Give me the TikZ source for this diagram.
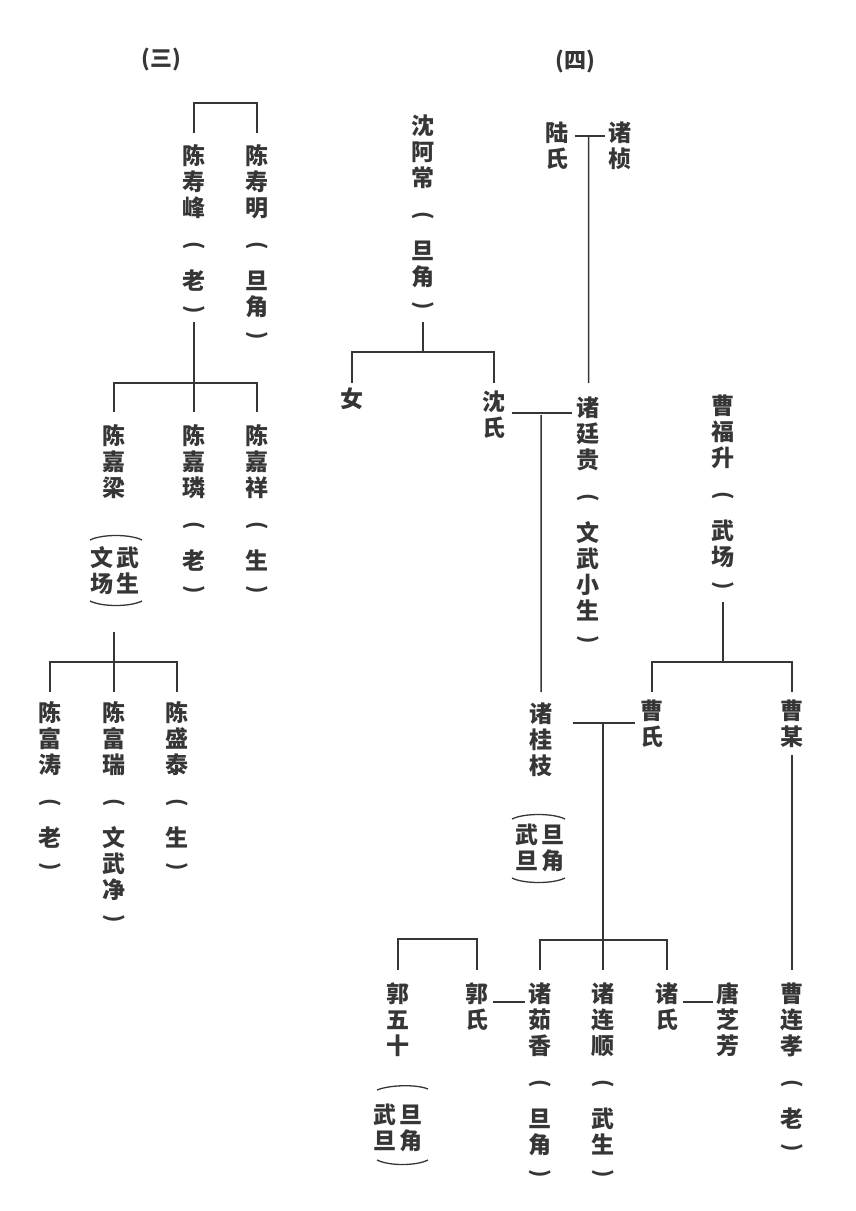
\documentclass[tikz,border=0pt]{standalone}
\usepackage{fontspec}
\usepackage{graphicx}
\usetikzlibrary{calc}
\newfontfamily\cjk{Noto Sans CJK SC}
\definecolor{ink}{HTML}{363636}
\newlength\gapO \setlength\gapO{22pt}
\newlength\gapP \setlength\gapP{28pt}
\newlength\gapQ \setlength\gapQ{13pt}
\newlength\pitchgap \setlength\pitchgap{3pt}
\newcommand\prn[1]{\hbox to 1em{\hss\smash{\fontsize{21}{21}\selectfont\rotatebox{-90}{#1}}\hss}}
\ExplSyntaxOn
\NewDocumentCommand\V{m}{
  \vbox{\offinterlineskip
    \bool_set_true:N \l_tmpa_bool
    \tl_map_inline:nn {#1}{
      \str_case:nnF {##1}{
        {<}{\kern\gapO \prn{(} \kern\gapP \bool_set_true:N \l_tmpa_bool}
        {>}{\kern\gapQ \prn{)}}
      }{
        \bool_if:NF \l_tmpa_bool {\kern\pitchgap}
        \bool_set_false:N \l_tmpa_bool
        \hbox to 1em{\hss\vrule width 0pt height .88em depth .12em\relax ##1\hss}
      }
    }
  }
}
\ExplSyntaxOff
\newcommand\VV[2]{\hbox{\V{#1}\kern3pt\V{#2}}}
\tikzset{
  vt/.style={font=\cjk\bfseries\fontsize{23}{26}\selectfont, text=ink, inner sep=0pt, anchor=north},
  ttl/.style={font=\cjk\bfseries\fontsize{22}{22}\selectfont, text=ink, inner sep=0pt, anchor=center},
  ln/.style={draw=ink, line width=1.5pt},
  arcst/.style={draw=ink, line width=1.3pt},
}
\begin{document}
\begin{tikzpicture}[x=1pt,y=-1pt]
\useasboundingbox (0,0) rectangle (856,1211);
% ---------------- (三) ----------------
\node[ttl] (t3) at (161,59) {(三)};
\node[vt] (sf) at (194,144) {\V{陈寿峰<老>}};
\node[vt] (sm) at (257,144) {\V{陈寿明<旦角>}};
\node[vt] (jl) at (114,424) {\V{陈嘉梁}};
\node[vt] (jlr) at (115,546) {\VV{文场}{武生}};
\node[vt] (jlin) at (194,424) {\V{陈嘉璘<老>}};
\node[vt] (jx) at (257,424) {\V{陈嘉祥<生>}};
\node[vt] (ft) at (50,701) {\V{陈富涛<老>}};
\node[vt] (fr) at (114,701) {\V{陈富瑞<文武净>}};
\node[vt] (st) at (177,701) {\V{陈盛泰<生>}};
\draw[ln] ($(sf.north)+(0,-11)$) |- ($(sm.north)+(0,-41)$) -- ($(sm.north)+(0,-11)$);
\draw[ln] ($(sf.north)+(0,178)$) -- ($(jlin.north)+(0,-12)$);
\draw[ln] ($(jl.north)+(0,-12)$) |- ($(jx.north)+(0,-41)$) -- ($(jx.north)+(0,-12)$);
\draw[arcst] ($(jlr.north)+(-25,-6)$) .. controls +(12,-6) and +(-12,-6) .. ($(jlr.north)+(27,-6)$);
\draw[arcst] ($(jlr.north)+(-25,55)$) .. controls +(12,6) and +(-12,6) .. ($(jlr.north)+(27,55)$);
\draw[ln] ($(jlr.north)+(-1,86)$) -- ($(fr.north)+(0,-9)$);
\draw[ln] ($(ft.north)+(0,-9)$) |- ($(st.north)+(0,-39)$) -- ($(st.north)+(0,-9)$);
% ---------------- (四) ----------------
\node[ttl] (t4) at (575,61) {(四)};
\node[vt] (sac) at (423,114) {\V{沈阿常<旦角>}};
\node[vt] (ls) at (557,121) {\V{陆氏}};
\node[vt] (zz) at (620,121) {\V{诸桢}};
\node[vt] (nv) at (352,387) {\V{女}};
\node[vt] (ss) at (494,390) {\V{沈氏}};
\node[vt] (ztg) at (588,396) {\V{诸廷贵<文武小生>}};
\node[vt] (cfs) at (723,394) {\V{曹福升<武场>}};
\node[vt] (zgz) at (541,702) {\V{诸桂枝}};
\node[vt] (zgzr) at (540,823) {\VV{武旦}{旦角}};
\node[vt] (cs) at (652,699) {\V{曹氏}};
\node[vt] (cm) at (792,699) {\V{曹某}};
\node[vt] (gws) at (398,982) {\V{郭五十}};
\node[vt] (gwsr) at (398,1103) {\VV{武旦}{旦角}};
\node[vt] (gs) at (477,982) {\V{郭氏}};
\node[vt] (zrx) at (540,982) {\V{诸茹香<旦角>}};
\node[vt] (zls) at (603,982) {\V{诸连顺<武生>}};
\node[vt] (zs) at (667,982) {\V{诸氏}};
\node[vt] (tzf) at (728,982) {\V{唐芝芳}};
\node[vt] (clx) at (792,982) {\V{曹连孝<老>}};
% lines
\draw[ln] ($(sac.north)+(0,208)$) -- ($(sac.north)+(0,238)$);
\draw[ln] ($(nv.north)+(0,-4)$) |- ($(ss.north)+(0,-38)$) -- ($(ss.north)+(0,-7)$);
\draw[ln] ($(ls.north east)+(6,15)$) -- ($(zz.north west)+(-3,15)$);
\draw[ln] ($(ls.north east)!0.5!(zz.north west)+(0,15)$) -- ($(ztg.north)+(0.5,-13)$);
\draw[ln] ($(ss.north east)+(6,23)$) -- ($(ztg.north west)+(-4,17)$);
\draw[ln] ($(ss.north east)!0.5!(ztg.north west)+(0,22)$) -- ($(zgz.north)+(0,-10)$);
\draw[ln] ($(cfs.north)+(0,208)$) -- ($(cfs.north)+(0,268)$);
\draw[ln] ($(cs.north)+(0,-7)$) |- ($(cm.north)+(0,-37)$) -- ($(cm.north)+(0,-7)$);
\draw[ln] ($(zgz.north east)+(20,21)$) -- ($(cs.north west)+(-5,24)$);
\draw[arcst] ($(zgzr.north)+(-28,-4)$) .. controls +(12,-6) and +(-12,-6) .. ($(zgzr.north)+(25,-4)$);
\draw[arcst] ($(zgzr.north)+(-28,55)$) .. controls +(12,6) and +(-12,6) .. ($(zgzr.north)+(25,55)$);
\draw[ln] ($(zls.north)+(0,-259)$) -- ($(zls.north)+(0,-12)$);
\draw[ln] ($(zrx.north)+(0,-12)$) |- ($(zs.north)+(0,-42)$) -- ($(zs.north)+(0,-12)$);
\draw[ln] ($(cm.north)+(0,56)$) -- ($(clx.north)+(0,-12)$);
\draw[ln] ($(gws.north)+(0,-12)$) |- ($(gs.north)+(0,-43)$) -- ($(gs.north)+(0,-12)$);
\draw[arcst] ($(gwsr.north)+(-21,-13)$) .. controls +(12,-5) and +(-12,-5) .. ($(gwsr.north)+(30,-14)$);
\draw[arcst] ($(gwsr.north)+(-21,57)$) .. controls +(12,6) and +(-12,6) .. ($(gwsr.north)+(30,57)$);
\draw[ln] ($(gs.north east)+(4,20)$) -- ($(zrx.north west)+(-3,20)$);
\draw[ln] ($(zs.north east)+(4,20)$) -- ($(tzf.north west)+(-3,20)$);
\end{tikzpicture}
\end{document}
